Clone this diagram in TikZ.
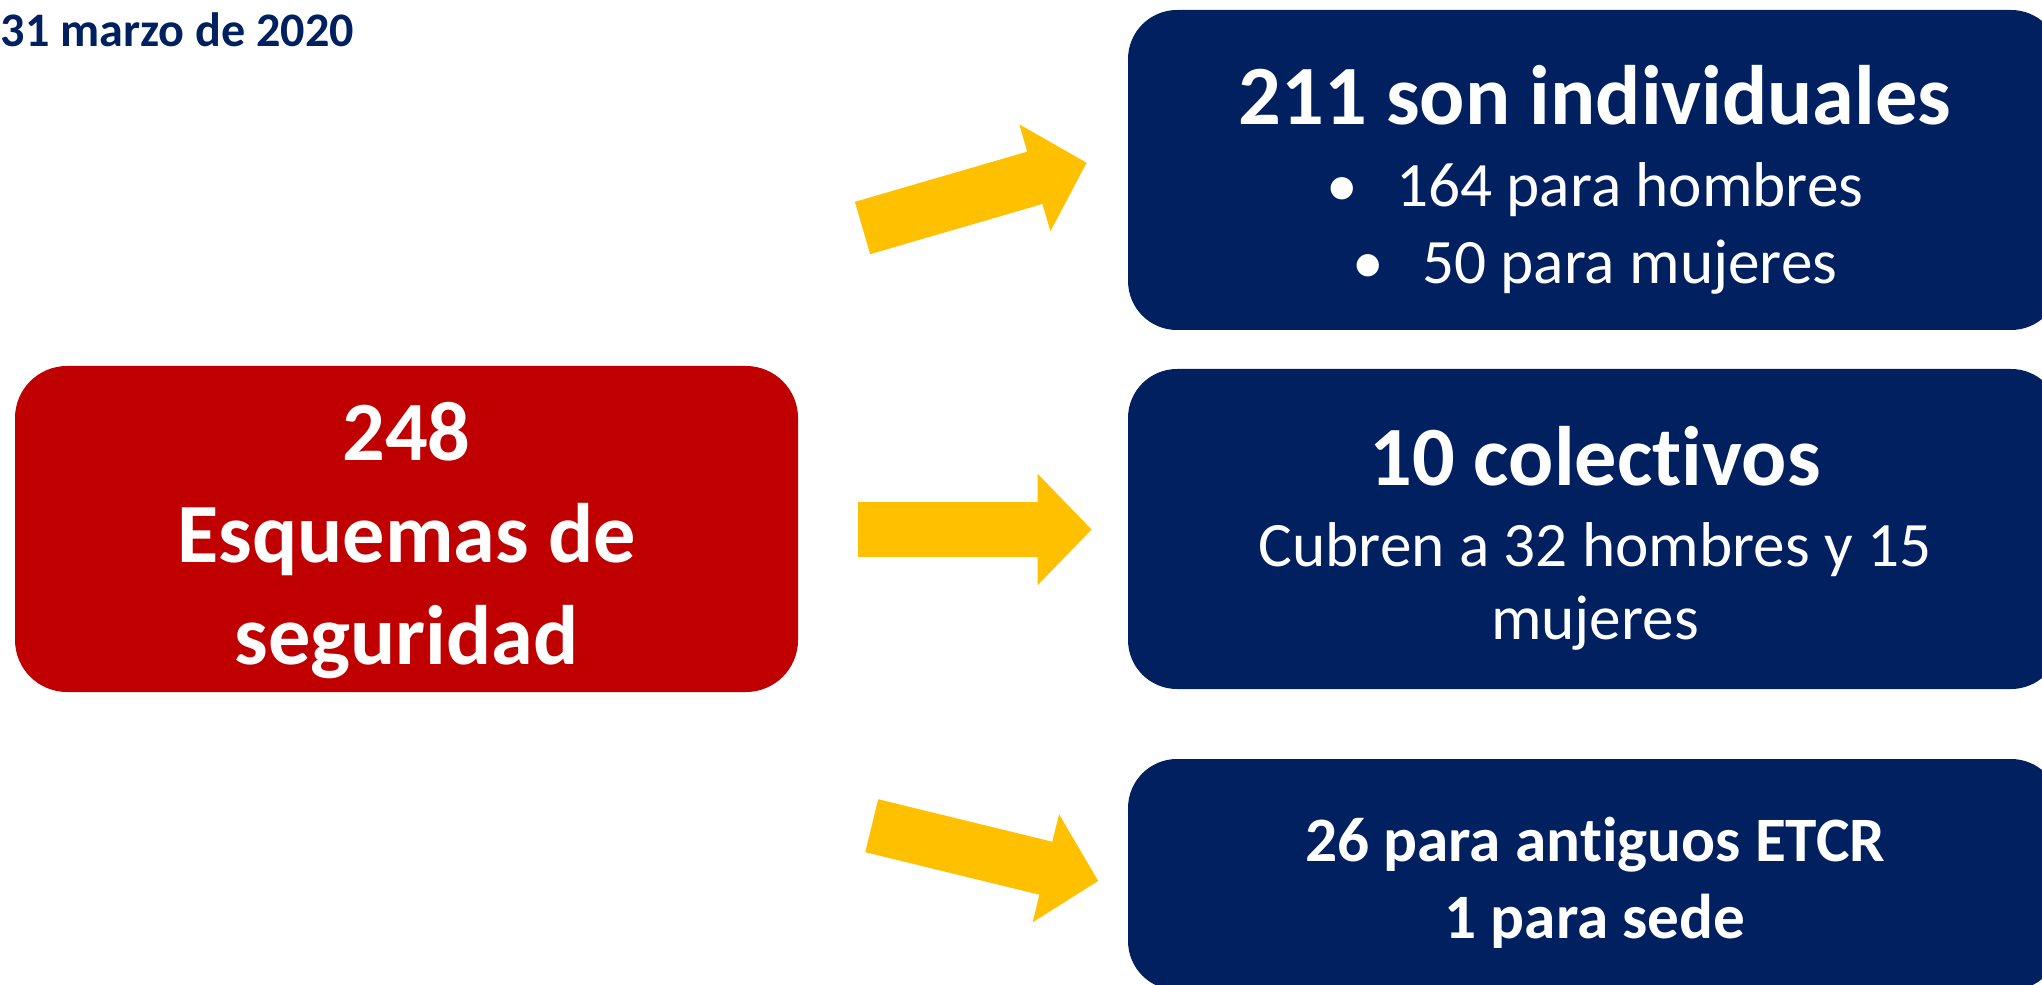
\documentclass[tikz,border=0pt]{standalone}
\usepackage{fontspec}
\setmainfont{Carlito}[Ligatures=NoCommon]
\usetikzlibrary{arrows.meta}
\definecolor{azul}{RGB}{0, 32, 96}
\definecolor{rojo}{RGB}{192, 0, 0}
\definecolor{amarillo}{RGB}{255, 192, 0}

\tikzset{
	caja/.style={fill=azul, rounded corners=0.49cm, inner sep=0pt, minimum width=9.32cm},
	texto/.style={text=white, align=center, inner sep=0pt},
	flecha/.style={draw=amarillo, line width=0.545cm, -{Triangle[length=0.54cm,width=1.08cm]}}
}

\begin{document}
\begin{tikzpicture}
	\clip (0,0) rectangle (20.42,-9.85);
	\node[anchor=base west, inner sep=0pt, text=azul, font=\fontsize{13.7}{16}\selectfont\bfseries] (fecha) at (0,-0.467) {31 marzo de 2020};
	% caja roja
	\node[fill=rojo, rounded corners=0.52cm, inner sep=0pt, minimum width=7.83cm, minimum height=3.26cm] (total) at (4.065,-5.29) {};
	\node[texto, font=\fontsize{24}{29}\selectfont\bfseries] (ttotal) at (4.065,-5.405) {248\\Esquemas de\\seguridad};
	% cajas azules
	\node[caja, minimum height=3.2cm] (indiv) at (15.94,-1.70) {};
	\node[caja, minimum height=3.2cm] (colec) at (15.94,-5.29) {};
	\node[caja, minimum height=2.31cm] (etcr) at (15.94,-8.745) {};
	\node[texto, font=\fontsize{18}{21.9}\selectfont] (tindiv) at (15.95,-1.795)
		{{\fontsize{24}{21.9}\selectfont\bfseries 211 son individuales}\\[1.4pt]
		\textbullet\hspace{0.6em}164 para hombres\\
		\textbullet\hspace{0.6em}50 para mujeres};
	\node[texto, font=\fontsize{18}{20.8}\selectfont] (tcolec) at (15.95,-5.3825)
		{{\fontsize{24}{20.8}\selectfont\bfseries 10 colectivos}\\[2.1pt]
		Cubren a 32 hombres y 15\\
		mujeres};
	\node[texto, font=\fontsize{18}{21.9}\selectfont\bfseries] (tetcr) at (15.95,-8.83) {26 para antiguos ETCR\\1 para sede};
	% flechas
	\coordinate (f1a) at (8.625,-2.28);
	\coordinate (f1b) at (10.867,-1.627);
	\coordinate (f2a) at (8.577,-5.295);
	\coordinate (f2b) at (10.917,-5.295);
	\coordinate (f3a) at (8.717,-8.257);
	\coordinate (f3b) at (10.983,-8.81);
	\draw[flecha] (f1a) -- (f1b);
	\draw[flecha] (f2a) -- (f2b);
	\draw[flecha] (f3a) -- (f3b);
\end{tikzpicture}
\end{document}
